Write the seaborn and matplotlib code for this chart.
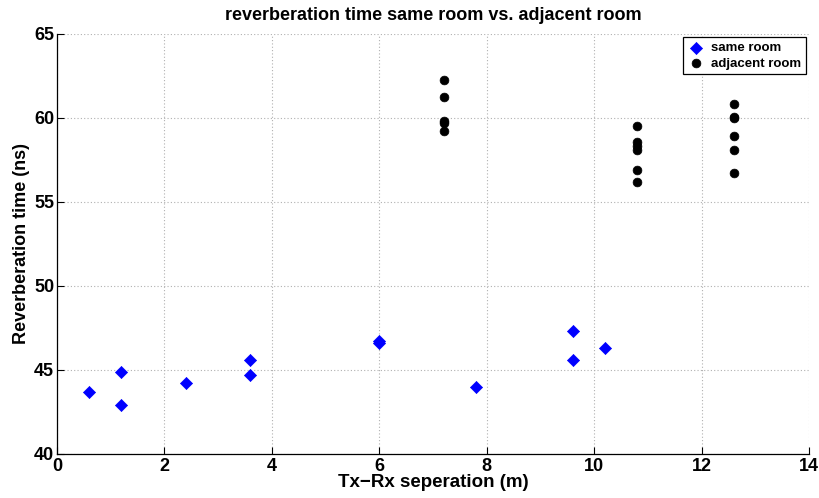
import matplotlib
matplotlib.use("Agg")
import matplotlib.pyplot as plt
import seaborn as sns
import pandas as pd

same_x = [0.6, 1.2, 1.2, 2.4, 3.6, 3.6, 6.0, 6.0, 7.8, 9.6, 9.6, 10.2]
same_y = [43.7, 44.9, 42.9, 44.2, 45.6, 44.7, 46.6, 46.75, 44.0, 47.3, 45.6, 46.3]

adj_x = [7.2, 7.2, 7.2, 7.2, 7.2,
         10.8, 10.8, 10.8, 10.8, 10.8, 10.8,
         12.6, 12.6, 12.6, 12.6, 12.6, 12.6]
adj_y = [62.25, 61.25, 59.85, 59.7, 59.2,
         59.5, 58.55, 58.35, 58.1, 56.9, 56.2,
         60.85, 60.0, 60.05, 58.9, 58.1, 56.7]

title = "reverberation time same room vs. adjacent room"
xlabel = "Tx\u2212Rx seperation (m)"
ylabel = "Reverberation time (ns)"
xticks = [0, 2, 4, 6, 8, 10, 12, 14]
yticks = [40, 45, 50, 55, 60, 65]

sns.set_theme(style="white", rc={"text.color": "black", "axes.labelcolor": "black",
                                 "xtick.color": "black", "ytick.color": "black"})
plt.rcParams['font.family'] = ['Liberation Sans', 'DejaVu Sans']
plt.rcParams['font.weight'] = 'bold'

fig = plt.figure(figsize=(8.19, 4.98), dpi=100)
ax = fig.add_axes([57/819, 44/498, 752/819, 420/498])

df_same = pd.DataFrame({"x": same_x, "y": same_y})
df_adj = pd.DataFrame({"x": adj_x, "y": adj_y})

sns.scatterplot(data=df_same, x="x", y="y", ax=ax, marker="D", color="#0000ff",
                s=38, edgecolor="#0000ff", linewidth=0.5, label="same room", zorder=3)
sns.scatterplot(data=df_adj, x="x", y="y", ax=ax, marker="o", color="black",
                s=40, edgecolor="black", linewidth=0.5, label="adjacent room", zorder=3)

ax.set_xlim(0, 14)
ax.set_ylim(40, 65)
ax.set_xticks(xticks)
ax.set_yticks(yticks)
ax.set_xticklabels([str(t) for t in xticks], fontsize=13, fontweight='bold', color='black')
ax.set_yticklabels([str(t) for t in yticks], fontsize=13, fontweight='bold', color='black')
ax.tick_params(direction='in', length=5, width=0.8, colors='black', pad=2,
               bottom=True, left=True, top=False, right=False)
ax.tick_params(axis='x', pad=3)
ax.grid(True, linestyle=(0, (1, 2)), color='#b0b0b0', linewidth=0.8)
for s in ['top', 'right']:
    ax.spines[s].set_visible(False)
for s in ['left', 'bottom']:
    ax.spines[s].set_color('black')
    ax.spines[s].set_linewidth(0.9)

ax.set_xlabel(xlabel, fontsize=13.5, fontweight='bold', labelpad=-1, color='black')
ax.set_ylabel(ylabel, fontsize=13, fontweight='bold', labelpad=3, color='black')
ax.set_title(title, fontsize=13, fontweight='bold', pad=10, color='black')

leg = ax.legend(loc='upper right', frameon=True, fancybox=False,
                edgecolor='black', framealpha=1, borderpad=0.35, handletextpad=0.4,
                labelspacing=0.25, handlelength=1.4, borderaxespad=0.25,
                prop={'weight': 'bold', 'size': 9.5})
leg.get_frame().set_linewidth(0.9)
for t in leg.get_texts():
    t.set_color('black')

fig.savefig("out.png", dpi=100)
